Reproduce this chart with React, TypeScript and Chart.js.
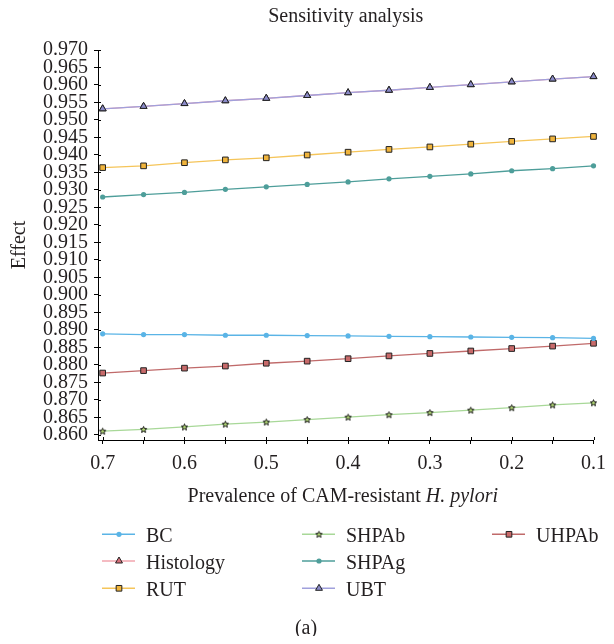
import React, { useEffect, useRef } from 'react';
import { Chart, registerables } from 'chart.js';

Chart.register(...registerables);

const FONT_FAMILY = "'Liberation Serif', 'Times New Roman', serif";
const TEXT_COLOR = '#231f20';

const titleText = 'Sensitivity analysis';
const xTitleMain = 'Prevalence of CAM-resistant ';
const xTitleItalic = 'H. pylori';
const yTitle = 'Effect';
const caption = '(a)';

const prevalence = [0.7, 0.65, 0.6, 0.55, 0.5, 0.45, 0.4, 0.35, 0.3, 0.25, 0.2, 0.15, 0.1];
const xTickLabels = ['0.7', '', '0.6', '', '0.5', '', '0.4', '', '0.3', '', '0.2', '', '0.1'];
const yTickValues = [
  0.86, 0.865, 0.87, 0.875, 0.88, 0.885, 0.89, 0.895, 0.9, 0.905, 0.91, 0.915,
  0.92, 0.925, 0.93, 0.935, 0.94, 0.945, 0.95, 0.955, 0.96, 0.965, 0.97,
];

const bc = [0.8889, 0.8887, 0.8887, 0.8885, 0.8885, 0.8884, 0.8883, 0.8882, 0.8881, 0.888, 0.8879, 0.8878, 0.8876];
const histology = [0.9532, 0.9539, 0.9547, 0.9555, 0.9562, 0.957, 0.9578, 0.9585, 0.9593, 0.9601, 0.9609, 0.9617, 0.9624];
const rut = [0.9364, 0.9369, 0.9378, 0.9386, 0.9392, 0.94, 0.9408, 0.9416, 0.9423, 0.9431, 0.9439, 0.9446, 0.9453];
const shpab = [0.8611, 0.8616, 0.8623, 0.8631, 0.8637, 0.8644, 0.8651, 0.8658, 0.8664, 0.8671, 0.8678, 0.8686, 0.8692];
const shpag = [0.928, 0.9287, 0.9293, 0.9302, 0.9309, 0.9316, 0.9323, 0.9332, 0.9339, 0.9346, 0.9355, 0.9361, 0.9369];
const ubt = [0.9532, 0.9539, 0.9547, 0.9555, 0.9562, 0.957, 0.9578, 0.9585, 0.9593, 0.9601, 0.9609, 0.9617, 0.9624];
const uhpab = [0.8777, 0.8784, 0.8791, 0.8797, 0.8805, 0.8811, 0.8818, 0.8826, 0.8833, 0.884, 0.8847, 0.8854, 0.8862];

type Marker = 'circle' | 'triangle' | 'rect' | 'star';

interface SeriesDef {
  name: string;
  values: number[];
  line: string;
  fill: string;
  marker: Marker;
  radius: number;
  border: number;
  order: number;
}

const seriesDefs: SeriesDef[] = [
  { name: 'BC', values: bc, line: '#5ab4e6', fill: '#5ab4e6', marker: 'circle', radius: 2.6, border: 0, order: 0 },
  { name: 'Histology', values: histology, line: '#f2a5ae', fill: '#d8707a', marker: 'triangle', radius: 4, border: 1, order: 1 },
  { name: 'RUT', values: rut, line: '#f5c55a', fill: '#f0b43c', marker: 'rect', radius: 4, border: 1, order: 0 },
  { name: 'SHPAb', values: shpab, line: '#a8d898', fill: '#b6dc78', marker: 'star', radius: 3, border: 1, order: 0 },
  { name: 'SHPAg', values: shpag, line: '#4e9e9a', fill: '#4e9e9a', marker: 'circle', radius: 2.6, border: 0, order: 0 },
  { name: 'UBT', values: ubt, line: '#a0a0dc', fill: '#8a8ac8', marker: 'triangle', radius: 4, border: 1, order: 0 },
  { name: 'UHPAb', values: uhpab, line: '#c06a6a', fill: '#c86a6a', marker: 'rect', radius: 4, border: 1, order: 0 },
];

function starPath(ctx: CanvasRenderingContext2D, x: number, y: number, ro: number, ri: number) {
  ctx.beginPath();
  for (let k = 0; k < 10; k++) {
    const r = k % 2 === 0 ? ro : ri;
    const a = -Math.PI / 2 + (k * Math.PI) / 5;
    const px = x + r * Math.cos(a);
    const py = y + r * Math.sin(a);
    if (k === 0) ctx.moveTo(px, py);
    else ctx.lineTo(px, py);
  }
  ctx.closePath();
}

function makeStar(fill: string): HTMLCanvasElement {
  const c = document.createElement('canvas');
  c.width = 9;
  c.height = 9;
  const g = c.getContext('2d')!;
  starPath(g, 4.5, 4.8, 3.3, 1.5);
  g.fillStyle = fill;
  g.fill();
  g.lineWidth = 1;
  g.strokeStyle = '#111';
  g.stroke();
  return c;
}

function drawMarker(ctx: CanvasRenderingContext2D, s: SeriesDef, x: number, y: number, star: HTMLCanvasElement) {
  ctx.save();
  ctx.fillStyle = s.fill;
  ctx.strokeStyle = '#222';
  ctx.lineWidth = s.border;
  const r = s.radius;
  if (s.marker === 'circle') {
    ctx.beginPath();
    ctx.arc(x, y, r, 0, Math.PI * 2);
    ctx.fill();
  } else if (s.marker === 'triangle') {
    ctx.beginPath();
    for (let k = 0; k < 3; k++) {
      const a = (k * 2 * Math.PI) / 3;
      const px = x + Math.sin(a) * r;
      const py = y - Math.cos(a) * r;
      if (k === 0) ctx.moveTo(px, py);
      else ctx.lineTo(px, py);
    }
    ctx.closePath();
    ctx.fill();
    ctx.stroke();
  } else if (s.marker === 'rect') {
    const h = r * Math.SQRT1_2;
    ctx.beginPath();
    ctx.rect(x - h, y - h, 2 * h, 2 * h);
    ctx.fill();
    ctx.stroke();
  } else {
    ctx.drawImage(star, x - star.width / 2, y - star.height / 2);
  }
  ctx.restore();
}

export default function App() {
  const canvasRef = useRef<HTMLCanvasElement | null>(null);

  useEffect(() => {
    const canvas = canvasRef.current;
    if (!canvas) return;
    const starImg = makeStar('#b6dc78');

    const datasets = seriesDefs.map((s) => ({
      label: s.name,
      data: prevalence.map((p, i) => ({ x: p, y: s.values[i] })),
      borderColor: s.line,
      borderWidth: 1.3,
      backgroundColor: s.fill,
      pointBackgroundColor: s.fill,
      pointBorderColor: '#222',
      pointBorderWidth: s.border,
      pointRadius: s.radius,
      pointStyle: s.marker === 'star' ? starImg : s.marker,
      tension: 0,
      clip: false as const,
      order: s.order,
    }));

    const decorPlugin = {
      id: 'decor',
      afterDraw(chart: any) {
        const { ctx, chartArea, scales } = chart;
        ctx.save();
        // inward half of tick marks
        ctx.strokeStyle = '#000';
        ctx.lineWidth = 1;
        yTickValues.forEach((v) => {
          const y = Math.round(scales.y.getPixelForValue(v)) + 0.5;
          ctx.beginPath();
          ctx.moveTo(chartArea.left, y);
          ctx.lineTo(chartArea.left + 3, y);
          ctx.stroke();
        });
        prevalence.forEach((v) => {
          const x = Math.round(scales.x.getPixelForValue(v)) + 0.5;
          ctx.beginPath();
          ctx.moveTo(x, chartArea.bottom);
          ctx.lineTo(x, chartArea.bottom - 3);
          ctx.stroke();
        });

        const cx = (chartArea.left + chartArea.right) / 2;
        ctx.fillStyle = TEXT_COLOR;
        ctx.textBaseline = 'alphabetic';
        // title
        ctx.font = `20px ${FONT_FAMILY}`;
        ctx.textAlign = 'center';
        ctx.fillText(titleText, cx, 14);

        // x axis title (mixed italic)
        ctx.textAlign = 'left';
        ctx.font = `20px ${FONT_FAMILY}`;
        const w1 = ctx.measureText(xTitleMain).width;
        ctx.font = `italic 20px ${FONT_FAMILY}`;
        const w2 = ctx.measureText(xTitleItalic).width;
        const sx = cx - 3 - (w1 + w2) / 2;
        ctx.font = `20px ${FONT_FAMILY}`;
        ctx.fillText(xTitleMain, sx, 494);
        ctx.font = `italic 20px ${FONT_FAMILY}`;
        ctx.fillText(xTitleItalic, sx + w1, 494);

        // legend (column-major, 3 rows)
        const colX = [94, 294, 484];
        const rowY = [526.3, 553, 580.3];
        ctx.font = `20px ${FONT_FAMILY}`;
        seriesDefs.forEach((s, i) => {
          const col = Math.floor(i / 3);
          const row = i % 3;
          const x0 = colX[col];
          const y0 = rowY[row];
          ctx.strokeStyle = s.line;
          ctx.lineWidth = 1.5;
          ctx.beginPath();
          ctx.moveTo(x0, y0);
          ctx.lineTo(x0 + 33, y0);
          ctx.stroke();
          drawMarker(ctx, s, x0 + 17, y0, starImg);
          ctx.fillStyle = TEXT_COLOR;
          ctx.textAlign = 'left';
          ctx.fillText(s.name, x0 + 44, y0 + 7.5);
        });

        // caption
        ctx.textAlign = 'center';
        ctx.fillText(caption, 298, 626);
        ctx.restore();
      },
    };

    const chart = new Chart(canvas, {
      type: 'line',
      data: { datasets },
      plugins: [decorPlugin],
      options: {
        responsive: false,
        animation: false,
        font: { family: FONT_FAMILY, size: 20 },
        layout: { autoPadding: false, padding: { top: 42, right: 15, left: 0, bottom: 0 } },
        plugins: {
          legend: { display: false },
          title: { display: false },
          tooltip: { enabled: false },
        },
        scales: {
          x: {
            type: 'linear',
            reverse: true,
            min: 0.1,
            max: 0.7057,
            afterBuildTicks: (s: any) => {
              s.ticks = prevalence.map((v) => ({ value: v }));
            },
            afterFit: (s: any) => {
              s.height = 196;
            },
            grid: { drawOnChartArea: false, drawTicks: true, tickLength: 4, color: '#000', lineWidth: 1 },
            border: { color: '#000', width: 1 },
            ticks: {
              autoSkip: false,
              maxRotation: 0,
              padding: 8,
              color: TEXT_COLOR,
              font: { family: FONT_FAMILY, size: 20 },
              callback: (_v: any, i: number) => xTickLabels[i],
            },
          },
          y: {
            type: 'linear',
            min: 0.85857,
            max: 0.97,
            afterBuildTicks: (s: any) => {
              s.ticks = yTickValues.map((v) => ({ value: v }));
            },
            afterFit: (s: any) => {
              s.width = 90;
            },
            grid: { drawOnChartArea: false, drawTicks: true, tickLength: 4, color: '#000', lineWidth: 1 },
            border: { color: '#000', width: 1 },
            ticks: {
              autoSkip: false,
              padding: 6,
              color: TEXT_COLOR,
              font: { family: FONT_FAMILY, size: 20 },
              callback: (v: any) => Number(v).toFixed(3),
            },
            title: {
              display: true,
              text: yTitle,
              color: TEXT_COLOR,
              padding: 0,
              font: { family: FONT_FAMILY, size: 20 },
            },
          },
        },
      } as any,
    });

    return () => chart.destroy();
  }, []);

  return (
    <canvas
      ref={canvasRef}
      width={606}
      height={628}
      style={{ display: 'block', width: 606, height: 628 }}
    />
  );
}
